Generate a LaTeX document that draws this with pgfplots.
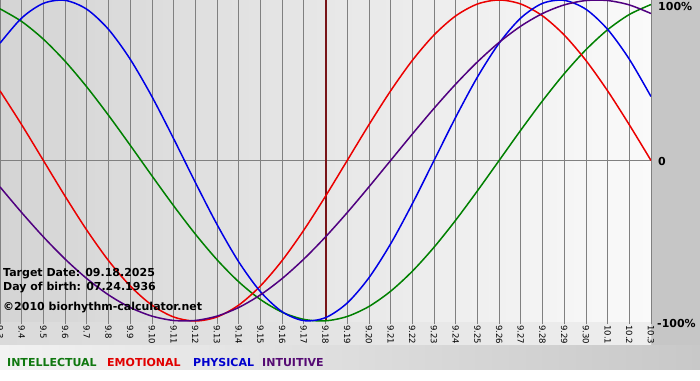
\documentclass[border=0pt]{standalone}
\usepackage{pgfplots}
\pgfplotsset{compat=1.18}
\usepackage{fontspec}
\setmainfont{DejaVu Sans}
\definecolor{cgreen}{RGB}{0,128,0}
\definecolor{cred}{RGB}{235,0,0}
\definecolor{cblue}{RGB}{0,0,230}
\definecolor{cpurple}{RGB}{80,0,128}
\definecolor{lgreen}{RGB}{16,120,16}
\definecolor{lred}{RGB}{225,0,0}
\definecolor{lblue}{RGB}{0,0,205}
\definecolor{lpurple}{RGB}{85,10,115}
\definecolor{gridgray}{RGB}{128,128,128}
\definecolor{bgside}{RGB}{198,198,198}
\definecolor{bgleft}{RGB}{212,212,212}
\definecolor{bgright}{RGB}{250,250,250}
\definecolor{dred}{RGB}{120,20,24}

\pgfplotstableread{
d phys emo intel intu
0 0.7308 0.4339 0.9450 -0.1646
1 0.8879 0.2225 0.8660 -0.3247
2 0.9791 0 0.7557 -0.4759
3 0.9977 -0.2225 0.6182 -0.6142
4 0.9423 -0.4339 0.4582 -0.7357
5 0.8170 -0.6235 0.2817 -0.8372
6 0.6311 -0.7818 0.0951 -0.9158
7 0.3984 -0.9010 -0.0951 -0.9694
8 0.1362 -0.9749 -0.2817 -0.9966
9 -0.1362 -1 -0.4582 -0.9966
10 -0.3984 -0.9749 -0.6182 -0.9694
11 -0.6311 -0.9010 -0.7557 -0.9158
12 -0.8170 -0.7818 -0.8660 -0.8372
13 -0.9423 -0.6235 -0.9450 -0.7357
14 -0.9977 -0.4339 -0.9898 -0.6142
15 -0.9791 -0.2225 -0.9989 -0.4759
16 -0.8879 0 -0.9718 -0.3247
17 -0.7308 0.2225 -0.9096 -0.1646
18 -0.5196 0.4339 -0.8146 0
19 -0.2698 0.6235 -0.6901 0.1646
20 0 0.7818 -0.5406 0.3247
21 0.2698 0.9010 -0.3717 0.4759
22 0.5196 0.9749 -0.1893 0.6142
23 0.7308 1 0 0.7357
24 0.8879 0.9749 0.1893 0.8372
25 0.9791 0.9010 0.3717 0.9158
26 0.9977 0.7818 0.5406 0.9694
27 0.9423 0.6235 0.6901 0.9966
28 0.8170 0.4339 0.8146 0.9966
29 0.6311 0.2225 0.9096 0.9694
30 0.3984 0 0.9718 0.9158
}\bio

\begin{document}
\begin{tikzpicture}[x=1pt,y=1pt]
\useasboundingbox (0,-59) rectangle (700,321);
\clip (0,-59) rectangle (700,321);
\fill[bgside] (0,-59) rectangle (700,321);
\shade[left color={rgb,255:red,218;green,218;blue,218}, right color={rgb,255:red,238;green,238;blue,238}] (0,-24) rectangle (651,0);
\shade[left color={rgb,255:red,242;green,242;blue,242}, right color={rgb,255:red,200;green,200;blue,200}] (0,-49) rectangle (700,-24);
\fill[white] (0,-59) rectangle (700,-49);
\begin{axis}[
  at={(0pt,0pt)}, anchor=south west,
  scale only axis, width=651pt, height=321pt,
  xmin=0, xmax=30, ymin=-1, ymax=1,
  axis line style={draw=none},
  axis background/.style={left color=bgleft, right color=bgright},
  xtick={0,...,30},
  xticklabels={9.3,9.4,9.5,9.6,9.7,9.8,9.9,9.10,9.11,9.12,9.13,9.14,9.15,9.16,9.17,9.18,9.19,9.20,9.21,9.22,9.23,9.24,9.25,9.26,9.27,9.28,9.29,9.30,10.1,10.2,10.3},
  xtick pos=bottom,
  tick align=outside,
  major tick length=3pt,
  xtick style={color=gridgray, line width=0.8pt},
  xticklabel style={rotate=-90, anchor=west, inner sep=1pt, font=\fontsize{8.5}{10}\selectfont},
  ytick={0}, yticklabels={}, ytick style={draw=none},
  xmajorgrids, ymajorgrids,
  grid style={color=gridgray, line width=0.8pt},
  clip=true,
]
\draw[dred, line width=2pt] (axis cs:15,-1) -- (axis cs:15,1);
\addplot[cgreen, line width=1.5pt, smooth, no markers] table[x=d, y=intel] {\bio};
\addplot[cred, line width=1.5pt, smooth, no markers] table[x=d, y=emo] {\bio};
\addplot[cblue, line width=1.5pt, smooth, no markers] table[x=d, y=phys] {\bio};
\addplot[cpurple, line width=1.5pt, smooth, no markers] table[x=d, y=intu] {\bio};
\end{axis}
\begin{scope}[every node/.style={inner sep=0pt, anchor=base west, font=\bfseries\fontsize{11}{13}\selectfont}]
\node at (658,310) {100\%};
\node at (658,155) {0};
\node at (657,-6) {-100\%};
\node at (3,45) {Target Date: 09.18.2025};
\node at (3,31) {Day of birth: 07.24.1936};
\node at (3,11) {©2010 biorhythm-calculator.net};
\node[text=lgreen] at (7,-45) {INTELLECTUAL};
\node[text=lred] at (107,-45) {EMOTIONAL};
\node[text=lblue] at (193,-45) {PHYSICAL};
\node[text=lpurple] at (262,-45) {INTUITIVE};
\end{scope}
\end{tikzpicture}
\end{document}
